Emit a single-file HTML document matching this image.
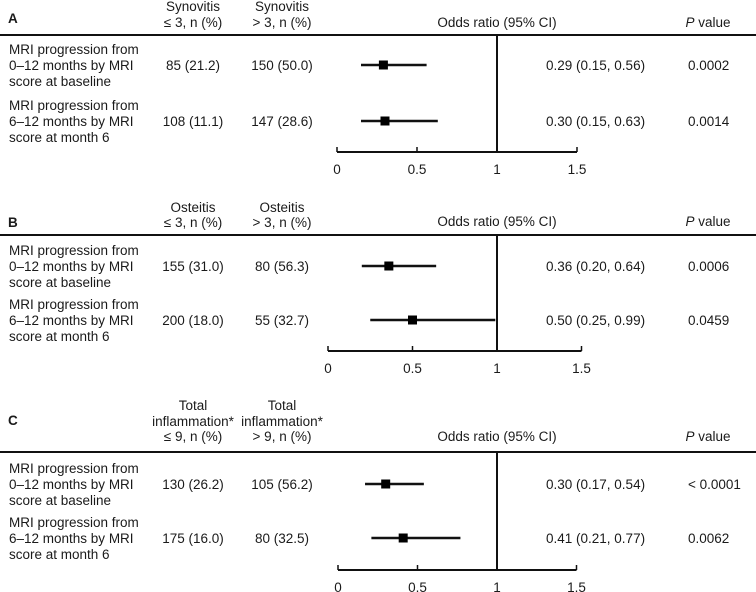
<!DOCTYPE html>
<html><head><meta charset="utf-8"><style>
html,body{margin:0;padding:0;background:#fff;}
svg{display:block;font-family:"Liberation Sans",Arial,sans-serif;}
text{fill:#1a1a1a;font-size:13.5px;}
</style></head><body>
<svg id="chart" width="756" height="592" viewBox="0 0 756 592"></svg>
<script>
const panelLetters = ["A","B","C"];
const groupLow = [["Synovitis","\u2264 3, n (%)"],["Osteitis","\u2264 3, n (%)"],["Total","inflammation*","\u2264 9, n (%)"]];
const groupHigh = [["Synovitis","> 3, n (%)"],["Osteitis","> 3, n (%)"],["Total","inflammation*","> 9, n (%)"]];
const rowLabels = [["MRI progression from","0\u201312 months by MRI","score at baseline"],["MRI progression from","6\u201312 months by MRI","score at month 6"]];
const countsLow = [["85 (21.2)","108 (11.1)"],["155 (31.0)","200 (18.0)"],["130 (26.2)","175 (16.0)"]];
const countsHigh = [["150 (50.0)","147 (28.6)"],["80 (56.3)","55 (32.7)"],["105 (56.2)","80 (32.5)"]];
const orValues = [[0.29,0.30],[0.36,0.50],[0.30,0.41]];
const ciLow = [[0.15,0.15],[0.20,0.25],[0.17,0.21]];
const ciHigh = [[0.56,0.63],[0.64,0.99],[0.54,0.77]];
const pValues = [["0.0002","0.0014"],["0.0006","0.0459"],["< 0.0001","0.0062"]];
const tickValues = [0,0.5,1,1.5];
const tickLabels = ["0","0.5","1","1.5"];

const layout = [
  {headY:[6,22],letterY:18,orY:22,lineY:35,rows:[65,121],axisY:152,x0:337,x1:497},
  {headY:[207,222],letterY:222,orY:221,lineY:235,rows:[266,320],axisY:351,x0:328,x1:497},
  {headY:[405,421,436],letterY:420,orY:436,lineY:452,rows:[484,538],axisY:570,x0:338,x1:497}
];
const svg = document.getElementById('chart');
const NS = "http://www.w3.org/2000/svg";
function mk(tag, attrs, txt){
  const e = document.createElementNS(NS, tag);
  for (const k in attrs) e.setAttribute(k, attrs[k]);
  if (txt !== undefined) e.textContent = txt;
  svg.appendChild(e);
  return e;
}
panelLetters.forEach((L, p) => {
  const g = layout[p];
  const xs = v => g.x0 + (g.x1 - g.x0) * v;
  let e = mk('text', {x:8, y:g.letterY+5, 'font-weight':'bold', 'font-size':'15'}, L);
  
  
  const hl = groupLow[p], hh = groupHigh[p];
  const offs = g.headY.length - hl.length;
  hl.forEach((t, i) => {
    e = mk('text', {x:193, y:g.headY[i+offs]+5, 'text-anchor':'middle'}, t);
    
    
  });
  hh.forEach((t, i) => {
    e = mk('text', {x:282, y:g.headY[i+offs]+5, 'text-anchor':'middle'}, t);
    
    
  });
  e = mk('text', {x:497, y:g.orY+5, 'text-anchor':'middle'}, 'Odds ratio (95% CI)');
  
  
  e = mk('text', {x:708, y:g.orY+5, 'text-anchor':'middle'});
  
  
  const ts = document.createElementNS(NS, 'tspan'); ts.setAttribute('font-style','italic'); ts.textContent = 'P'; e.appendChild(ts);
  e.appendChild(document.createTextNode(' value'));
  e = mk('line', {x1:0, x2:756, y1:g.lineY, y2:g.lineY, stroke:'#111', 'stroke-width':2});
  
  
  e = mk('line', {x1:xs(1), x2:xs(1), y1:g.lineY, y2:g.axisY, stroke:'#111', 'stroke-width':2});
  
  
  e = mk('line', {x1:xs(0), x2:xs(1.5), y1:g.axisY, y2:g.axisY, stroke:'#111', 'stroke-width':2});
  
  
  tickValues.forEach((v, i) => {
    e = mk('line', {x1:xs(v), x2:xs(v), y1:g.axisY, y2:g.axisY-5, stroke:'#111', 'stroke-width':1.5});
    
    
    e = mk('text', {x:xs(v), y:g.axisY+22, 'text-anchor':'middle'}, tickLabels[i]);
    
    
  });
  g.rows.forEach((ry, r) => {
    rowLabels[r].forEach((t, k) => {
      e = mk('text', {x:9, y:ry + (k-1)*16 + 5}, t);
      
      
    });
    e = mk('text', {x:193, y:ry+5, 'text-anchor':'middle'}, countsLow[p][r]);
    
    
    e = mk('text', {x:282, y:ry+5, 'text-anchor':'middle'}, countsHigh[p][r]);
    
    
    e = mk('line', {x1:xs(ciLow[p][r]), x2:xs(ciHigh[p][r]), y1:ry, y2:ry, stroke:'#111', 'stroke-width':2.5});
    
    
    e = mk('rect', {x:xs(orValues[p][r])-4.5, y:ry-4.5, width:9, height:9, fill:'#000'});
    
    
    e = mk('text', {x:546, y:ry+5}, orValues[p][r].toFixed(2) + ' (' + ciLow[p][r].toFixed(2) + ', ' + ciHigh[p][r].toFixed(2) + ')');
    
    
    e = mk('text', {x:688, y:ry+5}, pValues[p][r]);
    
    
  });
});
</script>
</body></html>
